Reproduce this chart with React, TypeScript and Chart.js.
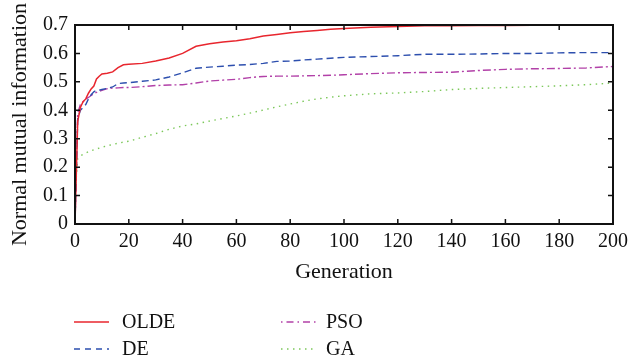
import React, { useEffect, useRef } from "react";
import { Chart, registerables } from "chart.js";

Chart.register(...registerables);

const generations = [0, 1, 2, 3, 4, 5, 6, 7, 8, 9, 10, 12, 14, 16, 18, 20, 25, 30, 35, 40, 45, 50, 55, 60, 65, 70, 75, 80, 85, 90, 95, 100, 110, 120, 130, 140, 150, 160, 170, 180, 190, 200];

const oldeValues = [0, 0.36, 0.41, 0.43, 0.44, 0.46, 0.475, 0.485, 0.51, 0.52, 0.528, 0.53, 0.535, 0.55, 0.56, 0.562, 0.565, 0.573, 0.584, 0.6, 0.625, 0.634, 0.64, 0.645, 0.652, 0.661, 0.667, 0.673, 0.677, 0.681, 0.685, 0.688, 0.692, 0.695, 0.697, 0.697, 0.698, 0.698, 0.699, 0.699, 0.699, 0.699];

const deValues = [0, 0.37, 0.4, 0.41, 0.42, 0.44, 0.455, 0.465, 0.47, 0.471, 0.473, 0.477, 0.482, 0.494, 0.496, 0.497, 0.502, 0.507, 0.517, 0.532, 0.548, 0.552, 0.555, 0.559, 0.561, 0.565, 0.572, 0.573, 0.577, 0.58, 0.583, 0.586, 0.589, 0.592, 0.597, 0.597, 0.598, 0.6, 0.6, 0.602, 0.603, 0.603];

const psoValues = [0, 0.39, 0.42, 0.43, 0.44, 0.445, 0.452, 0.458, 0.463, 0.467, 0.47, 0.476, 0.478, 0.479, 0.48, 0.48, 0.483, 0.487, 0.489, 0.49, 0.496, 0.503, 0.506, 0.509, 0.515, 0.519, 0.52, 0.52, 0.521, 0.522, 0.523, 0.525, 0.529, 0.532, 0.533, 0.534, 0.54, 0.544, 0.546, 0.547, 0.549, 0.554];

const gaValues = [0.1, 0.23, 0.24, 0.245, 0.25, 0.254, 0.258, 0.261, 0.264, 0.267, 0.27, 0.275, 0.28, 0.284, 0.288, 0.291, 0.305, 0.318, 0.333, 0.345, 0.352, 0.362, 0.371, 0.38, 0.39, 0.401, 0.412, 0.422, 0.432, 0.44, 0.446, 0.451, 0.458, 0.461, 0.466, 0.473, 0.477, 0.48, 0.483, 0.486, 0.49, 0.496];

const seriesNames = ["OLDE", "DE", "PSO", "GA"];
const xTickValues = [0, 20, 40, 60, 80, 100, 120, 140, 160, 180, 200];
const yTickValues = [0, 0.1, 0.2, 0.3, 0.4, 0.5, 0.6, 0.7];

const FONT = "'Liberation Serif', 'DejaVu Serif', serif";

const framePlugin = {
  id: "frame",
  afterDatasetsDraw(chart: any) {
    const { ctx, chartArea } = chart;
    const { left, right, top, bottom } = chartArea;
    const xs = chart.scales.x;
    const ys = chart.scales.y;
    const len = 5;
    ctx.save();
    ctx.strokeStyle = "#111";
    ctx.lineWidth = 1.5;
    ctx.setLineDash([]);
    ctx.beginPath();
    xs.ticks.forEach((t: any) => {
      const px = xs.getPixelForValue(t.value);
      ctx.moveTo(px, bottom);
      ctx.lineTo(px, bottom - len);
      ctx.moveTo(px, top);
      ctx.lineTo(px, top + len);
    });
    ys.ticks.forEach((t: any) => {
      const py = ys.getPixelForValue(t.value);
      ctx.moveTo(left, py);
      ctx.lineTo(left + len, py);
      ctx.moveTo(right, py);
      ctx.lineTo(right - len, py);
    });
    ctx.stroke();
    ctx.lineWidth = 2;
    ctx.strokeRect(left, top, right - left, bottom - top);
    ctx.restore();
  },
};

const legendPlugin = {
  id: "customLegend",
  afterDraw(chart: any) {
    const { ctx } = chart;
    const cols = [
      { lineX: 74, textX: 122 },
      { lineX: 281, textX: 326 },
    ];
    const rows = [322, 349];
    ctx.save();
    chart.data.datasets.forEach((ds: any, i: number) => {
      const col = cols[Math.floor(i / 2)];
      const y = rows[i % 2];
      ctx.strokeStyle = ds.borderColor;
      ctx.lineWidth = ds.borderWidth;
      ctx.setLineDash(ds.legendDash || ds.borderDash || []);
      ctx.beginPath();
      ctx.moveTo(col.lineX, y);
      ctx.lineTo(col.lineX + 35, y);
      ctx.stroke();
      ctx.setLineDash([]);
      ctx.fillStyle = "#111";
      ctx.font = `20px ${FONT}`;
      ctx.textBaseline = "middle";
      ctx.textAlign = "left";
      ctx.fillText(ds.label, col.textX, y + 1);
    });
    ctx.restore();
  },
};

export default function App() {
  const ref = useRef<HTMLCanvasElement | null>(null);

  useEffect(() => {
    if (!ref.current) return;
    const mk = (vals: number[]) => generations.map((g, i) => ({ x: g, y: vals[i] }));
    const chart = new Chart(ref.current, {
      type: "line",
      data: {
        datasets: [
          {
            label: seriesNames[0],
            data: mk(oldeValues),
            borderColor: "#e8262e",
            borderWidth: 1.5,
            pointRadius: 0,
            tension: 0,
          },
          {
            label: seriesNames[1],
            data: mk(deValues),
            borderColor: "#2d4fae",
            borderWidth: 1.4,
            borderDash: [7, 4],
            legendDash: [6, 5],
            pointRadius: 0,
            tension: 0,
          },
          {
            label: seriesNames[2],
            data: mk(psoValues),
            borderColor: "#b241a8",
            borderWidth: 1.4,
            borderDash: [8, 3, 2, 3],
            legendDash: [1.5, 4, 7, 4],
            pointRadius: 0,
            tension: 0,
          },
          {
            label: seriesNames[3],
            data: mk(gaValues),
            borderColor: "#7cc85a",
            borderWidth: 1.4,
            borderDash: [1.5, 4.5],
            legendDash: [1.5, 4.5],
            pointRadius: 0,
            tension: 0,
          },
        ] as any,
      },
      options: {
        animation: false,
        responsive: false,
        layout: { padding: { left: 0, top: 25, right: 15, bottom: 0 } },
        plugins: {
          legend: { display: false },
          tooltip: { enabled: false },
        },
        scales: {
          x: {
            type: "linear",
            min: 0,
            max: 200,
            grid: { display: false, drawTicks: false },
            border: { display: false },
            afterBuildTicks: (s: any) => {
              s.ticks = xTickValues.map((v) => ({ value: v }));
            },
            afterFit: (s: any) => {
              s.height = 140;
            },
            ticks: {
              padding: 6,
              color: "#111",
              font: { family: FONT, size: 20 },
              maxRotation: 0,
              autoSkip: false,
            },
            title: {
              display: true,
              text: "Generation",
              color: "#111",
              font: { family: FONT, size: 22 },
              padding: { top: 0, bottom: 79 },
            },
          },
          y: {
            type: "linear",
            min: 0,
            max: 0.7,
            grid: { display: false, drawTicks: false },
            border: { display: false },
            afterBuildTicks: (s: any) => {
              s.ticks = yTickValues.map((v) => ({ value: v }));
            },
            afterFit: (s: any) => {
              s.width = 75;
            },
            ticks: {
              padding: 7,
              color: "#111",
              font: { family: FONT, size: 20 },
              callback: (v: any) => (Number(v) === 0 ? "0" : Number(v).toFixed(1)),
            },
            title: {
              display: true,
              text: "Normal mutual information",
              color: "#111",
              font: { family: FONT, size: 22 },
              padding: { top: 7, bottom: 0 },
            },
          },
        },
      },
      plugins: [framePlugin, legendPlugin],
    });
    return () => chart.destroy();
  }, []);

  return (
    <div style={{ position: "absolute", left: 0, top: 0, width: 634, height: 364, background: "#fff" }}>
      <canvas ref={ref} width={634} height={364} />
    </div>
  );
}
